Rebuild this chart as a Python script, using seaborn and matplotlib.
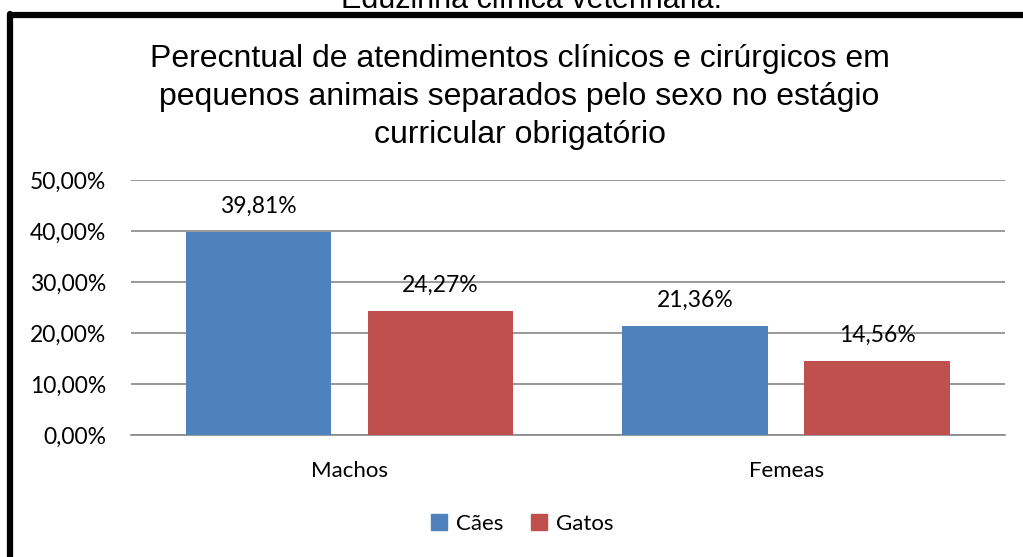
import matplotlib
matplotlib.use("Agg")
import matplotlib.pyplot as plt
from matplotlib.lines import Line2D
import seaborn as sns
import pandas as pd

# data
sexos = ["Machos", "Femeas"]
caes = [39.81, 21.36]
gatos = [24.27, 14.56]
especies = ["Cães", "Gatos"]
yticks = [0, 10, 20, 30, 40, 50]
cores = ["#4F81BD", "#C0504D"]

df = pd.DataFrame({
    "sexo": sexos * 2,
    "especie": [especies[0]] * 2 + [especies[1]] * 2,
    "valor": caes + gatos,
})

sns.set_style("white")
plt.rcParams["font.family"] = ["Lato", "DejaVu Sans"]
plt.rcParams["text.color"] = "black"
plt.rcParams["xtick.color"] = "black"
plt.rcParams["ytick.color"] = "black"

fig = plt.figure(figsize=(10.23, 5.57), dpi=100)
ax = fig.add_axes([0.128, 0.219, 0.854, 0.458])

sns.barplot(data=df, x="sexo", y="valor", hue="especie", order=sexos,
            hue_order=especies, palette=cores, saturation=1,
            width=0.833, gap=0.2, ax=ax, legend=False, zorder=3, linewidth=0)

for cont in ax.containers:
    ax.bar_label(cont, labels=[f"{v:.2f}%".replace(".", ",") for v in cont.datavalues],
                 padding=11, fontsize=16.5, zorder=4)

ax.set_xlim(-0.5, 1.5)
ax.set_ylim(0, 50)
ax.set_yticks(yticks)
ax.set_yticklabels([f"{t:.2f}%".replace(".", ",") for t in yticks], fontsize=16.5)
ax.tick_params(axis="x", labelsize=16, pad=19, length=0)
ax.tick_params(axis="y", pad=18, length=0)
ax.yaxis.grid(True, color="#888888", linewidth=1.2, zorder=0)
ax.set_axisbelow(True)
for s in ["top", "right", "left"]:
    ax.spines[s].set_visible(False)
ax.spines["bottom"].set_color("#888888")
ax.spines["bottom"].set_linewidth(1.2)
ax.set_xlabel("")
ax.set_ylabel("")

fig.text(0.508, 0.826,
         "Perecntual de atendimentos clínicos e cirúrgicos em\n"
         "pequenos animais separados pelo sexo no estágio\n"
         "curricular obrigatório",
         ha="center", va="center", fontsize=23, family=["Liberation Sans"],
         linespacing=1.36)

# caption above the frame, cut off by the figure edge
fig.text(0.52, 1.0, "Eduzinha clínica veterinária.", ha="center", va="center",
         fontsize=22, family=["Liberation Sans"])

handles = [Line2D([], [], marker="s", linestyle="", markersize=11,
                  color=c) for c in cores]
fig.legend(handles, especies, loc="center", bbox_to_anchor=(0.51, 0.059),
           ncol=2, frameon=False, fontsize=16, handlelength=0.8,
           handletextpad=0.35, columnspacing=1.2)

# thick frame (top and left edges)
fig.add_artist(Line2D([0.0098, 1.0], [0.973, 0.973], color="black", linewidth=4.5,
                      transform=fig.transFigure))
fig.add_artist(Line2D([0.0098, 0.0098], [0.0, 0.975], color="black", linewidth=4.5,
                      transform=fig.transFigure))

fig.savefig("out.png", dpi=100)
